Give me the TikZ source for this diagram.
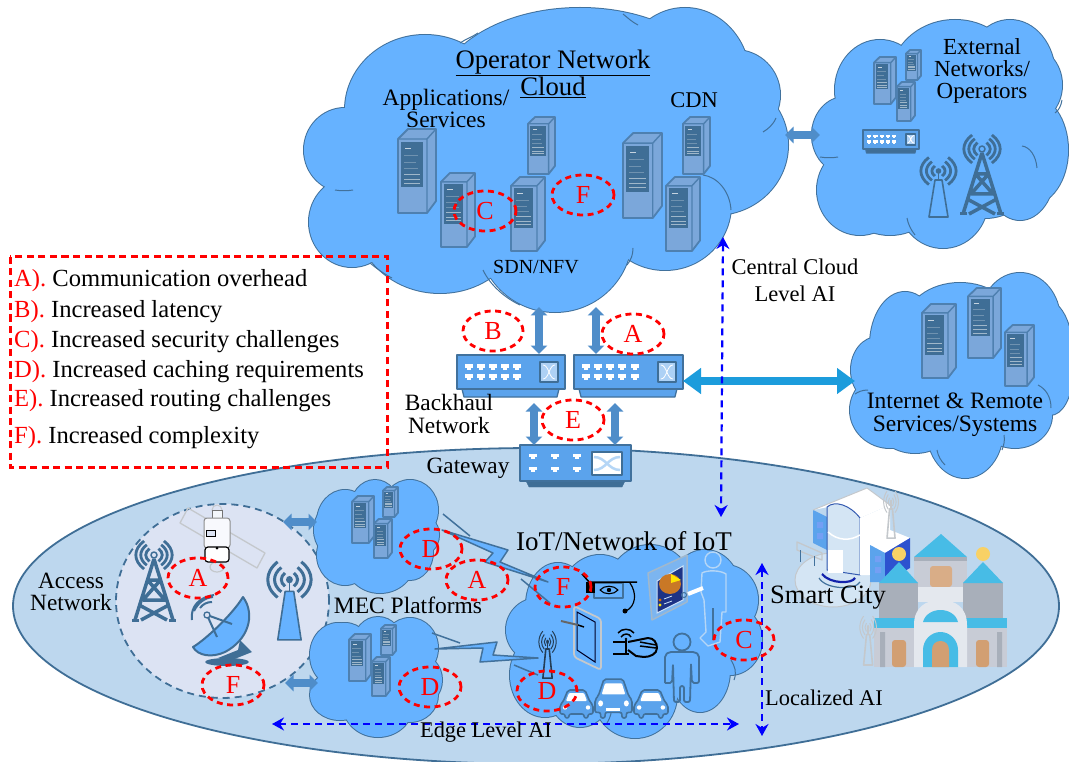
\documentclass[tikz,border=0pt]{standalone}
\usepackage{fontspec}
\setmainfont{Liberation Serif}
\usetikzlibrary{arrows.meta}
\definecolor{cloudblue}{HTML}{66B2FF}
\definecolor{edgeblue}{HTML}{41719C}
\definecolor{iconblue}{HTML}{3F6E96}
\definecolor{ovalblue}{HTML}{BDD7EE}
\definecolor{circleblue}{HTML}{DCE3F3}
\definecolor{serverface}{HTML}{7BA7DA}
\definecolor{serveredge}{HTML}{4E80B0}
\definecolor{arrowblue}{HTML}{4F8DC9}
\definecolor{bigarrow}{HTML}{1C9CDC}
\definecolor{switchblue}{HTML}{5BA3EC}
\definecolor{roofblue}{HTML}{47BCE6}
\definecolor{wallgrey}{HTML}{C8CCD6}
\definecolor{towergrey}{HTML}{A8AFBA}
\definecolor{archgrey}{HTML}{E4E8EE}
\definecolor{doororange}{HTML}{D29F72}
\definecolor{sunyellow}{HTML}{F8D165}
\definecolor{antgrey}{HTML}{C4C8CC}
\tikzset{
  x=1pt,y=-1pt,
  lab/.style={inner sep=0pt,align=center,text=black},
  redlab/.style={inner sep=0pt,text=red,font=\fontsize{26}{26}\selectfont},
  redoval/.style={draw=red,line width=2.8pt,dash pattern=on 6pt off 4.5pt},
  legline/.style={inner sep=0pt,anchor=base west,font=\fontsize{24.6}{24}\selectfont},
  blockarrow/.style={line width=8pt,draw=arrowblue,{Triangle[length=8.5pt,width=16pt]}-{Triangle[length=8.5pt,width=16pt]}},
  bigblock/.style={line width=8pt,draw=bigarrow,{Triangle[length=18pt,width=25pt]}-{Triangle[length=18pt,width=25pt]}},
  aiarrow/.style={draw=blue,line width=2.2pt,dash pattern=on 7pt off 5pt,{Stealth[length=12pt,width=13pt]}-{Stealth[length=12pt,width=13pt]}},
  boltshape/.style={fill=cloudblue,draw=edgeblue,line width=1.5pt,line join=round},
  tailline/.style={draw=edgeblue,line width=1.5pt},
  innerarc/.style={draw=edgeblue,line width=1pt},
}
\newcommand\mycloud[1]{%
  \foreach \cx/\cy/\ra/\rb in {#1}{\draw[edgeblue,line width=2pt] (\cx,\cy) ellipse [x radius=\ra pt,y radius=\rb pt];}%
  \foreach \cx/\cy/\ra/\rb in {#1}{\fill[cloudblue] (\cx,\cy) ellipse [x radius=\ra pt,y radius=\rb pt];}%
}
\newcommand\myserver[4]{%
  \begin{scope}[shift={(#1,#2)},xscale=#3/38,yscale=#4/84,line join=round]
    \filldraw[fill=serverface,draw=serveredge,line width=1.8pt] (0,10)--(10,0)--(38,0)--(38,72)--(29,84)--(0,84)--cycle;
    \draw[serveredge,line width=1.4pt] (0,10)--(29,10)--(38,0) (29,10)--(29,84);
    \fill[iconblue] (3,13) rectangle (25,58);
    \draw[serverface,line width=.7pt] (26,13)--(26,60)--(2,60);
    \draw[white!50!iconblue,line width=.8pt] (6,45)--(22,45) (6,50)--(22,50) (6,54)--(22,54);
    \draw[white!25!iconblue,line width=.5pt] (6,26)--(20,26) (6,33)--(18,33) (6,39)--(20,39);
    \draw[white!70!iconblue,line width=.8pt] (7,19)--(13,19);
  \end{scope}}
\newcommand\myswitch[5]{%
  \begin{scope}[shift={(#1,#2)},xscale=#3/108,yscale=#4/42,line join=round]
    \filldraw[fill=#5,draw=edgeblue,line width=1.3pt] (5,34)--(102,34)--(100,42)--(7,42)--cycle;
    \filldraw[fill=switchblue,draw=edgeblue,line width=1.8pt] (0,0) rectangle (108,34);
    \foreach \px in {12,24,36,48,60}{\foreach \py in {12,22}{\fill[white] (\px-4,\py-3) rectangle (\px+4,\py+1);\fill[white] (\px-2,\py+1) rectangle (\px+2,\py+3);}}
    \filldraw[fill=white!50!switchblue,draw=iconblue,line width=1.6pt] (83,7) rectangle (101,27);
    \draw[white,line width=.8pt] (86,10) .. controls (92,10) and (92,24) .. (98,24) (86,24) .. controls (92,24) and (92,10) .. (98,10);
  \end{scope}}
\newcommand\mywaves[3]{%
  \foreach \r in {#3}{%
    \draw ({#1-0.6*\r},{#2-0.85*\r}) .. controls ({#1-1.27*\r},{#2-0.35*\r}) and ({#1-1.27*\r},{#2+0.35*\r}) .. ({#1-0.6*\r},{#2+0.85*\r});
    \draw ({#1+0.6*\r},{#2-0.85*\r}) .. controls ({#1+1.27*\r},{#2-0.35*\r}) and ({#1+1.27*\r},{#2+0.35*\r}) .. ({#1+0.6*\r},{#2+0.85*\r});
  }}
\newcommand\mytower[2]{%
  \begin{scope}[shift={(#1,#2)},draw=iconblue,line join=round]
    \begin{scope}[line width=2.8pt]\mywaves{22}{15}{7.5,12,16.5}\end{scope}
    \draw[line width=1.5pt] (22,15) circle [radius=3pt];
    \draw[line width=3.5pt] (22,19)--(3,80) (22,19)--(41,80) (15.5,40)--(28.5,40)
      (15.5,40)--(33,60) (28.5,40)--(11,60) (11,60)--(33,60) (9,66)--(35,80)(35,66)--(9,80);
    \draw[line width=3pt] (0,80)--(7,80) (37,80)--(44,80);
  \end{scope}}
\newcommand\myantenna[7]{% x y sx sy fill col wavewidth
  \begin{scope}[shift={(#1,#2)},xscale=#3,yscale=#4,draw=#6,line join=round]
    \begin{scope}[line width=#7]\mywaves{21.5}{15}{6,11,16}\end{scope}
    \fill[#6] (21.5,15) circle [radius=2.8pt];
    \draw[line width=1.6pt] (21.5,15)--(21.5,24);
    \filldraw[fill=#5,line width=1.6pt] (12,61)--(31,61)--(25,24)--(18,24)--cycle;
  \end{scope}}
\newcommand\mycar[3]{%
  \begin{scope}[shift={(#1,718)},xscale=#2,yscale=#3,line join=round]
    \filldraw[fill=switchblue,draw=edgeblue,line width=1.6pt,rounded corners=2pt]
      (8,-28)--(25,-28)--(30,-16)--(33,-13)--(33,-4)--(28,-4)--(28,0)--(24,0)--(24,-4)--(9,-4)--(9,0)--(5,0)--(5,-4)--(0,-4)--(0,-13)--(3,-16)--cycle;
    \fill[white,rounded corners=1pt] (9,-25)--(24,-25)--(27,-17)--(6,-17)--cycle;
    \fill[white] (5,-10.5) circle [radius=2.2pt] (28,-10.5) circle [radius=2.2pt];
  \end{scope}}
\begin{document}
\begin{tikzpicture}
\useasboundingbox (0,0) rectangle (1069,762);
\clip (0,0) rectangle (1069,762);
\fill[white] (0,0) rectangle (1069,762);

% ---------- edge oval and access circle
\filldraw[fill=ovalblue,draw=iconblue,line width=1.8pt] (536,606) ellipse [x radius=523pt,y radius=158pt];
\filldraw[fill=circleblue,draw=iconblue,line width=1.8pt,dash pattern=on 7pt off 5pt] (222.5,601) ellipse [x radius=106.5pt,y radius=97pt];

% ---------- operator cloud
\mycloud{345/150/41/42,352/222/43/45,440/215/85/78,425/110/80/75,580/100/145/92,685/80/65/72,735/95/45/45,715/145/73/70,665/205/66/65,555/235/77/77,540/160/190/110}
\draw[innerarc] (335,190) .. controls (340,191) and (348,191) .. (353,190);
\draw[innerarc] (763,132) .. controls (768,129) and (773,125) .. (776,118);
\draw[innerarc] (703,175) .. controls (718,177) and (730,192) .. (731,210);
\draw[innerarc] (483,270) .. controls (490,285) and (505,298) .. (520,305);
\draw[innerarc] (633,248) .. controls (633,255) and (631,260) .. (627,265);
\draw[innerarc] (370,263) .. controls (376,268) and (384,274) .. (392,278);
\draw[innerarc] (460,43) .. controls (466,39) and (472,37) .. (478,33);
\draw[innerarc] (638,25) .. controls (632,22) and (628,18) .. (623,14);

% ---------- external cloud
\mycloud{845/135/33/38,860/190/43/45,880/90/45/50,955/80/65/60,1010/75/45/55,1025/85/37/40,1030/150/38/55,1020/170/35/50,985/180/45/38,943/200/45/48,890/190/50/45,950/130/90/80}
\draw[innerarc] (820,157) .. controls (826,158) and (833,158) .. (838,157);
\draw[innerarc] (1055,113) .. controls (1059,110) and (1061,106) .. (1062,100);
\draw[innerarc] (1022,146) .. controls (1030,147) and (1036,156) .. (1037,168);
\draw[innerarc] (907,218) .. controls (908,224) and (911,230) .. (915,235);

% ---------- internet cloud
\mycloud{878/370/27/33,905/345/35/53,960/325/55/42,1020/320/40/47,1045/350/27/50,1050/375/22/40,1015/415/37/33,965/430/38/48,890/410/40/38,915/420/40/33,960/370/80/65}
\draw[innerarc] (1038,385) .. controls (1046,389) and (1051,397) .. (1051,408);
\draw[innerarc] (1004,435) .. controls (1005,440) and (1004,445) .. (1002,450);
\draw[innerarc] (937,450) .. controls (938,456) and (941,461) .. (945,465);
\draw[innerarc] (855,394) .. controls (858,392) and (862,390) .. (868,390);

% ---------- MEC clouds
\mycloud{338/530/24/28,345/522/28/32,375/510/25/30,410/510/28/30,417/535/22/22,410/552/23/28,380/560/35/33,345/555/28/30,385/535/50/45}
\mycloud{338/655/28/32,345/655/28/32,378/645/25/28,410/648/28/30,420/680/22/25,410/695/28/27,378/705/35/32,340/695/30/25,385/680/50/42}

% ---------- IoT cloud
\mycloud{538/630/32/32,558/605/32/42,600/600/40/45,650/595/45/50,705/590/35/40,725/600/33/35,730/640/32/35,700/670/30/42,635/695/42/43,580/690/32/37,545/675/35/42,640/640/80/60}
\draw[innerarc] (731,660) .. controls (735,667) and (737,672) .. (734,680);
\draw[innerarc] (607,723) .. controls (611,716) and (612,712) .. (611,706);

% ---------- servers
\myserver{398}{129}{38}{84}
\myserver{441}{173}{34}{74}
\myserver{511}{177}{34}{74}
\myserver{528}{117}{27}{57}
\myserver{623}{133}{39}{85}
\myserver{683}{117}{27}{57}
\myserver{666}{177}{34}{74}
\myserver{874}{57}{22}{47}
\myserver{906}{50}{15}{30}
\myserver{897}{82}{18}{39}
\myserver{922}{304}{34}{74}
\myserver{968}{288}{33}{70}
\myserver{1005}{325}{29}{61}
\myserver{352}{496}{22}{47}
\myserver{383}{487}{15}{30}
\myserver{374}{519}{18}{39}
\myserver{349}{634}{22}{47}
\myserver{381}{625}{15}{30}
\myserver{372}{657}{18}{39}

% ---------- switches and gateway
\myswitch{457}{355}{108}{42}{switchblue}
\myswitch{574}{355}{109}{42}{switchblue}
\myswitch{863}{130}{56}{23}{iconblue}
\begin{scope}[line join=round]
  \filldraw[fill=iconblue,draw=iconblue] (526,481)--(625,481)--(622,487)--(529,487)--cycle;
  \filldraw[fill=switchblue,draw=edgeblue,line width=1.8pt] (520,445) rectangle (631,481);
  \foreach \px in {533,555,577}{\foreach \py in {456,469}{\fill[white] (\px-4,\py-2) rectangle (\px+4,\py+.5);\fill[white] (\px-2,\py+.5) rectangle (\px+2,\py+2.5);}}
  \filldraw[fill=white,draw=iconblue,line width=1.4pt] (592,452) rectangle (622,475);
  \draw[white!55!switchblue,line width=2.5pt] (594,457) .. controls (606,457) and (608,470) .. (620,470) (594,470) .. controls (606,470) and (608,457) .. (620,457);
\end{scope}

% ---------- access network icons
\mytower{132}{540}
\myantenna{263}{560}{1.23}{1.31}{cloudblue}{iconblue}{3pt}
% satellite
\draw[antgrey,line width=1.3pt,line join=round] (188,508)--(180,523)--(257,568)--(265,553)--cycle;
\draw[antgrey,line width=1.2pt] (217,567) ellipse [x radius=7pt,y radius=5pt];
\filldraw[fill=circleblue,draw=antgrey,line width=1pt] (217,510) ellipse [x radius=5pt,y radius=5pt];
\filldraw[fill=white!70!circleblue,draw=black!55,line width=.8pt] (212,510) rectangle (222,522);
\filldraw[fill=white!80!circleblue,draw=black!45,line width=1pt,rounded corners=3pt] (204,518) rectangle (230,548);
\filldraw[fill=circleblue,draw=black,line width=1pt] (206,530) rectangle (215,536);
\filldraw[fill=white,draw=black,line width=1.2pt,rounded corners=3pt] (205,547) rectangle (229,562);
\fill[black] (217,548) circle [radius=1.5pt];
% dish
\fill[iconblue] (227,662) ellipse [x radius=22pt,y radius=4pt];
\fill[iconblue] (240,640)--(252,652)--(232,660)--(218,658)--(238,650)--cycle;
\filldraw[fill=cloudblue,draw=iconblue,line width=2pt,line join=round] (243,597) .. controls (256,615) and (248,640) .. (225,652) .. controls (212,658) and (198,656) .. (193,647) .. controls (205,640) and (232,615) .. (243,597) -- cycle;
\draw[iconblue,line width=2pt] (207,615)--(217,637) (207,615)--(232,624);
\filldraw[fill=circleblue,draw=iconblue,line width=1.3pt] (207,615) circle [radius=3pt];
\draw[iconblue,line width=2pt] (200,608) .. controls (203,604) and (207,602) .. (212,602) (194,611) .. controls (198,603) and (204,598) .. (213,597) (192,620) .. controls (190,606) and (200,597) .. (214,595);

% ---------- IoT icons
\myantenna{537}{630}{.49}{.79}{none}{black!45!edgeblue}{1pt}
% display
\filldraw[fill=white!20!switchblue,draw=white!50!edgeblue,line width=1.5pt,line join=round] (648,573)--(687,555)--(687,602)--(652,620)--cycle;
\filldraw[fill=black!55!blue!55!edgeblue,draw=white!70!switchblue,line width=1pt] (657,581)--(683,566)--(683,600)--(657,613)--cycle;
\fill[orange!75!black!85!white] (670,584) ellipse [x radius=11pt,y radius=10pt];
\fill[yellow!85!orange] (671,583)--(671,574)--(681,580)--cycle;
\fill[orange!85!black] (660,600) circle [radius=1.6pt];
\fill[yellow!85!orange] (660,605) circle [radius=1.6pt];
\draw[white!70!switchblue,line width=.8pt] (664,599)--(672,596) (664,604)--(672,601);
% presenter
\draw[white!55!switchblue,line width=1.4pt] (713,560) circle [radius=8pt];
\draw[white!55!switchblue,line width=1.4pt,line join=round] (702,573) .. controls (707,570) and (720,570) .. (726,574) -- (726,612) -- (722,612) -- (720,642) -- (708,646) -- (700,638) -- (706,632) -- (704,600) -- (701,592) -- cycle;
\draw[white,line width=4pt] (688,594)--(703,588);
\draw[edgeblue,line width=1pt] (684,595) circle [radius=2.5pt];
\draw[edgeblue,line width=1.2pt] (713,608)--(713,640);
% person
\draw[edgeblue,line width=1.8pt] (682,642) circle [radius=8.5pt];
\draw[edgeblue,line width=1.8pt,line join=round,rounded corners=2pt] (665,683)--(665,655)--(669,652)--(695,652)--(699,655)--(699,683)--(692,683)--(691,664)
 (691,664)--(690,702)--(684,702)--(684,686)--(680,686)--(680,702)--(674,702)--(673,664)--(672,683)--(665,683);
% tablet
\draw[antgrey,line width=1.8pt,rounded corners=3pt] (574,606)--(601,619)--(601,670)--(574,657)--cycle;
\draw[black!85!blue,line width=1pt] (577,612)--(595,622)--(595,662)--(577,650)--cycle;
\draw[white!40!black,line width=2pt] (561,621)--(578,625);
\draw[black,line width=1.5pt] (578,625)--(584,627);
% hand
\begin{scope}[black,line width=1.5pt,line join=round]
  \draw (613,642)--(627,642) (613,654)--(629,654) (626,640)--(626,655);
  \draw[line width=2pt] (628,642)--(648,638) .. controls (654,638) and (657,643) .. (657,648) .. controls (657,654) and (650,657) .. (644,657) -- (636,656) -- (628,650);
  \draw (640,642)--(656,645) (640,646)--(656,648);
  \draw (618,633) .. controls (622,628) and (630,628) .. (634,633) (621,637) .. controls (624,633) and (629,633) .. (631,637);
  \fill (626,639) circle [radius=1.4pt];
\end{scope}
% eye camera
\begin{scope}[line join=round]
  \filldraw[fill=cloudblue,draw=edgeblue,line width=1.3pt] (594,583) rectangle (623,598);
  \fill[black] (586,582) rectangle (595,593);
  \draw[black,line width=1.5pt] (582,574)--(590,583) (590,582)--(637,582);
  \draw[black,line width=1.1pt] (600,590) .. controls (604,585) and (614,585) .. (618,590) .. controls (614,595) and (604,595) .. (600,590) -- cycle;
  \fill[black] (609,590) circle [radius=2.2pt];
  \draw[black,line width=1.2pt] (630,583) .. controls (637,593) and (636,606) .. (626,611);
  \fill[black] (625,611) circle [radius=2.5pt];
\end{scope}
% cars
\mycar{560}{1}{1}
\mycar{595}{1.12}{1.39}
\mycar{634}{1.03}{1}
\fill[white] (606,708) rectangle (620,711);

% ---------- smart city
\begin{scope}[line join=round]
  \filldraw[fill=white!35!ovalblue,draw=antgrey,line width=1pt] (833,580) ellipse [x radius=38pt,y radius=27pt];
  \draw[antgrey,line width=1.3pt] (797,542)--(822,553)--(822,560)--(797,550)--cycle;
  \draw[edgeblue,line width=1pt] (800,550)--(800,562) (814,556)--(814,566);
  \fill[switchblue] (813,510)--(827,517)--(827,550)--(813,543)--cycle;
  \fill[white] (813,510)--(867,488)--(890,505)--(860,518)--(828,507)--cycle;
  \draw[antgrey,line width=1pt] (813,510)--(867,488)--(890,505);
  \filldraw[fill=white!35!ovalblue,draw=edgeblue!80!blue,line width=1pt] (827,507) .. controls (835,500) and (850,505) .. (860,518) -- (860,575) -- (827,570) -- cycle;
  \fill[white] (828,550) rectangle (843,573);
  \draw[white,line width=1.5pt] (828,532) .. controls (838,541) and (850,541) .. (860,535);
  \fill[white] (860,518)--(890,505)--(890,530)--(910,538)--(885,553)--(870,545)--(870,575)--(860,575)--cycle;
  \fill[switchblue] (870,545)--(885,553)--(885,582)--(870,582)--cycle;
  \fill[black!30!blue!50!switchblue] (885,553)--(910,538)--(910,568)--(885,582)--cycle;
  \fill[white!60!blue!40!switchblue] (817,522) rectangle (823,528) (817,533) rectangle (823,539) (875,556) rectangle (881,562) (875,567) rectangle (881,573);
  \draw[black!30!blue!70!edgeblue,line width=2.2pt] (822,574) .. controls (830,584) and (852,584) .. (855,578);
  \draw[edgeblue,line width=1.2pt] (819,578) .. controls (826,590) and (856,590) .. (860,582);
\end{scope}
\begin{scope}
  \fill[wallgrey] (914,557) rectangle (967,600);
  \fill[roofblue] (914,557)--(941,534)--(967,557)--cycle;
  \fill[towergrey] (914,557) rectangle (967,561);
  \fill[doororange!85!white,rounded corners=3pt] (930,566) rectangle (952,587);
  \fill[sunyellow] (899,554) circle [radius=7pt] (983,554) circle [radius=7pt];
  \fill[towergrey] (879,583) rectangle (918,618);
  \fill[towergrey] (963,583) rectangle (1003,618);
  \fill[roofblue] (879,583)--(899,562)--(918,583)--cycle;
  \fill[roofblue] (963,583)--(983,562)--(1003,583)--cycle;
  \fill[archgrey] (918,587) rectangle (963,602);
  \fill[wallgrey] (874,628) rectangle (1007,667);
  \fill[roofblue] (874,618) rectangle (1007,628);
  \fill[archgrey] (914,667)--(914,625) .. controls (914,607) and (926,600) .. (940.5,600) .. controls (955,600) and (967,607) .. (967,625) -- (967,667) -- cycle;
  \fill[roofblue] (923,622) .. controls (925,614) and (933,610) .. (940.5,610) .. controls (948,610) and (956,614) .. (958,622) -- cycle;
  \fill[roofblue] (923,667)--(923,650) .. controls (923,640) and (931,632) .. (940.5,632) .. controls (950,632) and (958,640) .. (958,650) -- (958,667) -- cycle;
  \fill[doororange] (932,667)--(932,650) .. controls (932,644) and (936,641) .. (940.5,641) .. controls (945,641) and (949,644) .. (949,650) -- (949,667) -- cycle;
  \fill[doororange,rounded corners=3pt] (892,667)--(892,640)--(906,640)--(906,667)--cycle;
  \fill[doororange,rounded corners=3pt] (976,667)--(976,640)--(989,640)--(989,667)--cycle;
  \fill[towergrey] (880,632) rectangle (885,667) (997,632) rectangle (1002,667);
\end{scope}
\myantenna{882}{490}{.42}{.79}{none}{antgrey}{1pt}
\myantenna{858}{615}{.47}{.82}{none}{antgrey}{1pt}

% ---------- external / radio icons
\mytower{960}{134}
\myantenna{917}{156}{1}{1}{cloudblue}{iconblue}{2.8pt}

% ---------- lightning links
\draw[tailline] (443,514)--(470,536);
\draw[boltshape] (442,530)--(508,550)--(500,562)--(548,582)--(485,562)--(493,553)--cycle;
\draw[tailline] (521,579)--(550,603);
\draw[tailline] (432,633)--(460,643);
\draw[boltshape] (435,649)--(497,642)--(493,655)--(538,658)--(480,662)--(483,648)--cycle;
\draw[tailline] (514,665)--(538,675);

% ---------- block arrows
\coordinate (opA) at (539,307); \coordinate (swA) at (539,354);
\coordinate (opB) at (596,307); \coordinate (swB) at (596,354);
\coordinate (swC) at (534,403); \coordinate (gwA) at (534,445);
\coordinate (swD) at (615,403); \coordinate (gwB) at (615,445);
\coordinate (swE) at (683,381); \coordinate (inet) at (855,381);
\coordinate (opC) at (785,135); \coordinate (extn) at (820,135);
\coordinate (accA) at (283,522); \coordinate (mecA) at (317,522);
\coordinate (accB) at (285,683); \coordinate (mecB) at (318,683);
\draw[blockarrow] (opA)--(swA);
\draw[blockarrow] (opB)--(swB);
\draw[blockarrow] (swC)--(gwA);
\draw[blockarrow] (swD)--(gwB);
\draw[bigblock] (swE)--(inet);
\draw[blockarrow] (opC)--(extn);
\draw[blockarrow] (accA)--(mecA);
\draw[blockarrow] (accB)--(mecB);

% ---------- AI level arrows
\coordinate (cTop) at (723,237); \coordinate (cBot) at (721,517);
\coordinate (eL) at (272,724); \coordinate (eR) at (739,724);
\coordinate (lTop) at (762,563); \coordinate (lBot) at (762,736);
\draw[aiarrow] (cTop)--(cBot);
\draw[aiarrow] (eL)--(eR);
\draw[aiarrow] (lTop)--(lBot);

% ---------- labels
\node[lab,font=\fontsize{26.7}{25}\selectfont] (opcloud) at (553,74) {\underline{Operator Network}\\\underline{Cloud}};
\node[lab,font=\fontsize{23.5}{22}\selectfont] (apps) at (446,108) {Applications/\\Services};
\node[lab,font=\fontsize{22.5}{24}\selectfont] (cdn) at (694,100) {CDN};
\node[lab,font=\fontsize{20}{22}\selectfont] (sdn) at (536,267) {SDN/NFV};
\node[lab,font=\fontsize{23}{22}\selectfont] (extnet) at (982,71) {External\\Networks/\\Operators};
\node[lab,font=\fontsize{22.5}{27}\selectfont] (central) at (795,280) {Central Cloud\\Level AI};
\node[lab,font=\fontsize{23.5}{23}\selectfont] (inettxt) at (955,415) {Internet \& Remote\\Services/Systems};
\node[lab,font=\fontsize{23.4}{22.5}\selectfont] (backhaul) at (449,414) {Backhaul\\Network};
\node[lab,font=\fontsize{23.3}{24}\selectfont] (gateway) at (468,468) {Gateway};
\node[lab,font=\fontsize{23.3}{22}\selectfont] (access) at (71,592) {Access\\Network};
\node[lab,font=\fontsize{23.5}{24}\selectfont] (mectxt) at (408,605) {MEC Platforms};
\node[lab,font=\fontsize{27}{25}\selectfont] (iot) at (624,541) {IoT/Network of IoT};
\node[lab,font=\fontsize{26.5}{26}\selectfont] (smart) at (828,598) {Smart City};
\node[lab,font=\fontsize{22.4}{24}\selectfont] (local) at (824,698) {Localized AI};
\node[lab,font=\fontsize{22.4}{24}\selectfont] (edge) at (486,732) {Edge Level AI};

% ---------- legend
\draw[redoval,line width=3pt,dash pattern=on 7pt off 4.5pt] (10,257) rectangle (387,467);
\node[legline] (l1) at (14,287) {\textcolor{red}{A).} Communication overhead};
\node[legline] (l2) at (14,317) {\textcolor{red}{B).} Increased latency};
\node[legline] (l3) at (14,347) {\textcolor{red}{C).} Increased security challenges};
\node[legline] (l4) at (14,377) {\textcolor{red}{D).} Increased caching requirements};
\node[legline] (l5) at (14,406) {\textcolor{red}{E).} Increased routing challenges};
\node[legline] (l6) at (14,443) {\textcolor{red}{F).} Increased complexity};

% ---------- red markers
\foreach \nm/\ltr/\mx/\my/\ra in {
  c1/C/485/211/31, f1/F/583/195/31, b1/B/493/331/30, a1/A/633/334/31, e1/E/573/420/31,
  a2/A/198/578/30, f2/F/233/685/31, d1/D/431/549/31, a3/A/477/580/31, d2/D/430/687/31,
  f3/F/563/587/28, c2/C/744/640/30, d3/D/547/691/30}{
  \draw[redoval] (\mx,\my) ellipse [x radius=\ra pt,y radius=20pt];
  \node[redlab] (\nm) at (\mx,\my) {\ltr};
}
\end{tikzpicture}
\end{document}
